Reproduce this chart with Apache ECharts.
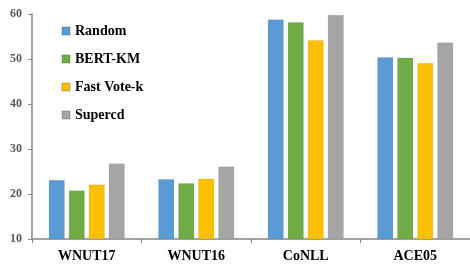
<!DOCTYPE html>
<html>
<head>
<meta charset="utf-8">
<script src="https://cdn.jsdelivr.net/npm/echarts@6/dist/echarts.min.js"></script>
<style>
  html, body { margin: 0; padding: 0; background: #fff; }
  #chart { width: 470px; height: 264px; }
</style>
</head>
<body>
<div id="chart"></div>
<script>
const categories = ['WNUT17', 'WNUT16', 'CoNLL', 'ACE05']
const random = [23.1, 23.3, 58.8, 50.4]
const bertKm = [20.8, 22.4, 58.2, 50.3]
const fastVoteK = [22.1, 23.4, 54.2, 49.1]
const supercd = [26.8, 26.1, 59.8, 53.7]

const serif = 'Liberation Serif, Times New Roman, serif'
const myChart = echarts.init(document.getElementById('chart'))

function bar (name, data, color) {
  return {
    name: name,
    type: 'bar',
    data: data,
    barWidth: 16,
    barGap: '25%',
    itemStyle: {
      color: color,
      borderColor: 'rgba(0,0,0,0.12)',
      borderWidth: 0.6
    }
  }
}

const option = {
  animation: false,
  legend: {
    orient: 'vertical',
    left: 56,
    top: 19,
    itemWidth: 8,
    itemHeight: 8,
    itemGap: 14,
    icon: 'rect',
    textStyle: {
      fontFamily: serif,
      fontWeight: 'bold',
      fontSize: 14,
      color: '#000'
    }
  },
  grid: {
    left: 32,
    right: 0,
    top: 14,
    bottom: 25
  },
  xAxis: {
    type: 'category',
    data: categories,
    axisLine: { lineStyle: { color: '#868686', width: 1.5 } },
    axisTick: { show: true, length: 4, lineStyle: { color: '#868686' } },
    axisLabel: {
      fontFamily: serif,
      fontWeight: 'bold',
      fontSize: 14,
      color: '#000',
      margin: 10
    }
  },
  yAxis: {
    type: 'value',
    min: 10,
    max: 60,
    interval: 10,
    splitLine: { show: false },
    axisLine: { show: true, lineStyle: { color: '#868686', width: 1.5 } },
    axisTick: { show: true, length: 4, lineStyle: { color: '#868686' } },
    axisLabel: {
      fontFamily: serif,
      fontWeight: 'bold',
      fontSize: 12,
      color: '#595959',
      margin: 10
    }
  },
  series: [
    bar('Random', random, '#5B9BD5'),
    bar('BERT-KM', bertKm, '#70AD47'),
    bar('Fast Vote-k', fastVoteK, '#FFC000'),
    bar('Supercd', supercd, '#A5A5A5')
  ]
}

myChart.setOption(option)
</script>
</body>
</html>
